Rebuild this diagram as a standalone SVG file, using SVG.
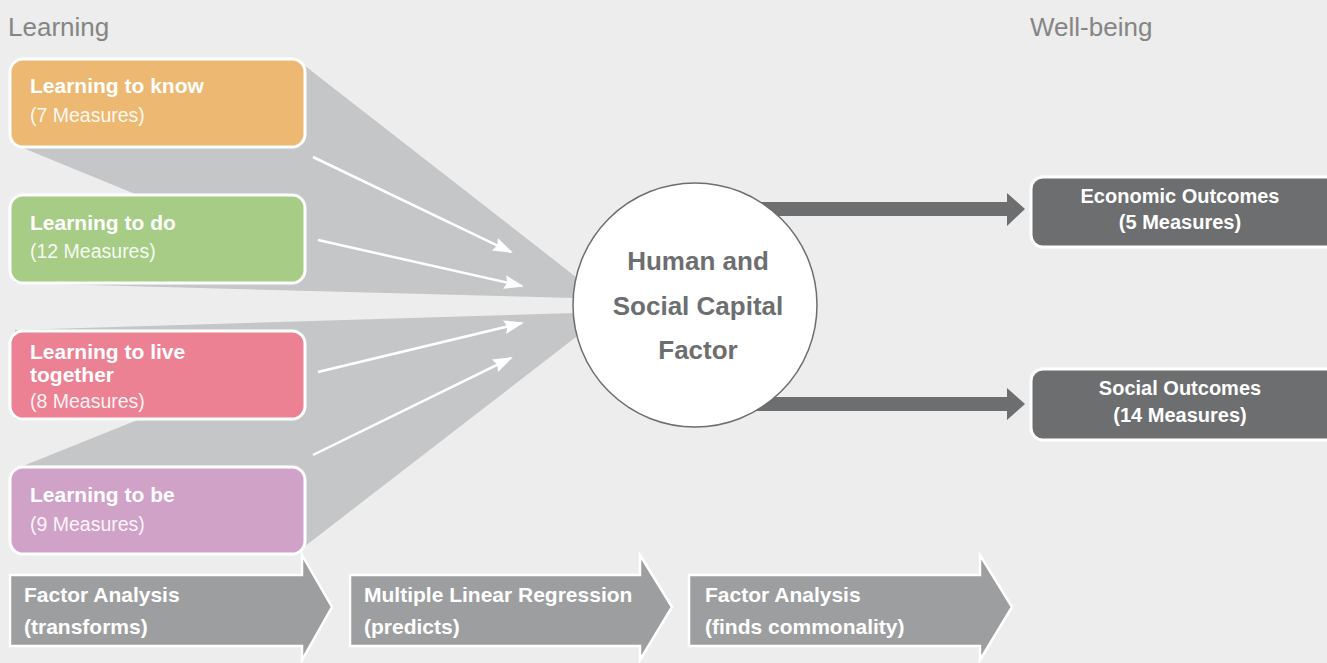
<svg xmlns="http://www.w3.org/2000/svg" width="1327" height="663" viewBox="0 0 1327 663">
<defs>
<style>
.bg{fill:#ecedec}
.funnel{fill:#c5c6c7}
.box{stroke:#ffffff;stroke-width:3}
.bt{font-family:"Liberation Sans",Arial,sans-serif;font-size:21px;font-weight:bold;fill:#ffffff}
.bs{font-family:"Liberation Sans",Arial,sans-serif;font-size:19.5px;fill:#ffffff;fill-opacity:0.92}
.title{font-family:"Liberation Sans",Arial,sans-serif;font-size:26px;fill:#858585}
.ct{font-family:"Liberation Sans",Arial,sans-serif;font-size:26px;font-weight:bold;fill:#6d6e70;text-anchor:middle}
.ot{font-family:"Liberation Sans",Arial,sans-serif;font-size:20px;font-weight:bold;fill:#ffffff;text-anchor:middle}
.wl{stroke:#ffffff;stroke-width:2.5;fill:none;marker-end:url(#wh)}
.thick{fill:#6d6e70}
.proc{fill:#9d9e9f;stroke:#ffffff;stroke-width:2.5}
</style>
<marker id="wh" viewBox="0 0 20 14" refX="18" refY="7" markerWidth="20" markerHeight="14" markerUnits="userSpaceOnUse" orient="auto">
<path d="M0,0 L20,7 L0,14 L3,7 Z" fill="#ffffff"/>
</marker>
</defs>
<rect class="bg" x="0" y="0" width="1327" height="663"/>
<g id="titles">
<text class="title" x="8" y="36">Learning</text>
<text class="title" x="1030" y="36">Well-being</text>
</g>
<g id="funnels">
<polygon class="funnel" points="300,62 576,277 576,298 15,283 15,196 140,196 23,148 15,140 15,62"/>
<polygon class="funnel" points="15,330 576,313 576,337 300,550 15,550 15,470 23,466 140,419 15,419"/>
</g>
<g id="connectors">
<line class="wl" x1="313" y1="157" x2="511" y2="252"/>
<line class="wl" x1="318" y1="240" x2="522" y2="286"/>
<line class="wl" x1="318" y1="372" x2="522" y2="323"/>
<line class="wl" x1="313" y1="455" x2="511" y2="358"/>
<polygon class="thick" points="740,202 1007,202 1007,193 1025,209 1007,226 1007,216 740,216"/>
<polygon class="thick" points="740,397 1007,397 1007,388 1025,404 1007,420 1007,411 740,411"/>
</g>
<g id="know">
<rect class="box" x="10" y="59" width="295" height="88" rx="13" fill="#ecb872"/>
<text class="bt" x="30" y="93">Learning to know</text>
<text class="bs" x="30" y="122">(7 Measures)</text>
</g>
<g id="do">
<rect class="box" x="10" y="195" width="295" height="88" rx="13" fill="#a6cc86"/>
<text class="bt" x="30" y="230">Learning to do</text>
<text class="bs" x="30" y="258">(12 Measures)</text>
</g>
<g id="live">
<rect class="box" x="10" y="331" width="295" height="88" rx="13" fill="#eb8193"/>
<text class="bt" x="30" y="359">Learning to live</text>
<text class="bt" x="30" y="382">together</text>
<text class="bs" x="30" y="408">(8 Measures)</text>
</g>
<g id="be">
<rect class="box" x="10" y="467" width="295" height="87" rx="13" fill="#d0a2c8"/>
<text class="bt" x="30" y="502">Learning to be</text>
<text class="bs" x="30" y="531">(9 Measures)</text>
</g>
<g id="factor">
<circle cx="695" cy="305" r="122" fill="#ffffff" stroke="#6d6e70" stroke-width="1.5"/>
<text class="ct" x="698" y="270">Human and</text>
<text class="ct" x="698" y="315">Social Capital</text>
<text class="ct" x="698" y="359">Factor</text>
</g>
<g id="economic">
<rect class="box" x="1031" y="177" width="310" height="70" rx="12" fill="#6d6e70"/>
<text class="ot" x="1180" y="203">Economic Outcomes</text>
<text class="ot" x="1180" y="229">(5 Measures)</text>
</g>
<g id="social">
<rect class="box" x="1031" y="369" width="310" height="71" rx="12" fill="#6d6e70"/>
<text class="ot" x="1180" y="395">Social Outcomes</text>
<text class="ot" x="1180" y="422">(14 Measures)</text>
</g>
<g id="step1">
<polygon class="proc" points="10,575 302,575 302,555 332,607 302,660 302,646 10,646"/>
<text class="bt" x="24" y="602">Factor Analysis</text>
<text class="bt" x="24" y="634">(transforms)</text>
</g>
<g id="step2">
<polygon class="proc" points="350,575 640,575 640,555 672,607 640,660 640,646 350,646"/>
<text class="bt" x="364" y="602">Multiple Linear Regression</text>
<text class="bt" x="364" y="634">(predicts)</text>
</g>
<g id="step3">
<polygon class="proc" points="689,575 980,575 980,555 1012,607 980,660 980,646 689,646"/>
<text class="bt" x="705" y="602">Factor Analysis</text>
<text class="bt" x="705" y="634">(finds commonality)</text>
</g>
</svg>
